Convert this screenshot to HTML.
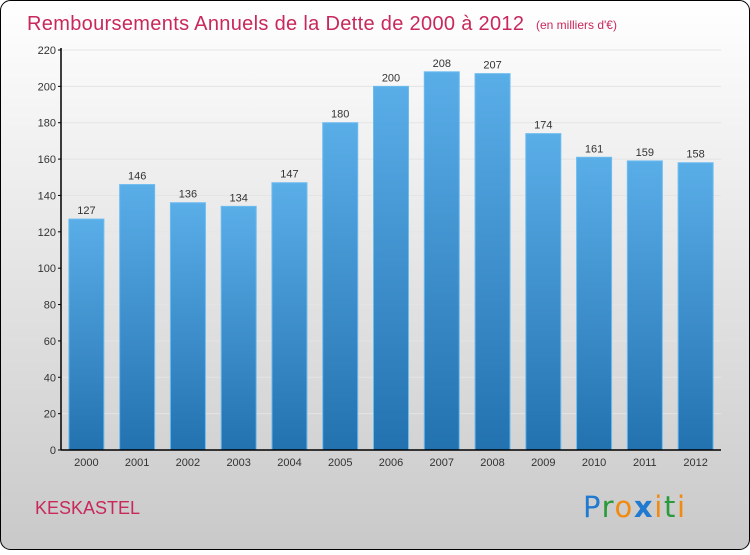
<!DOCTYPE html>
<html><head><meta charset="utf-8"><style>
body{margin:0;width:750px;height:550px;overflow:hidden;font-family:"Liberation Sans",sans-serif}
</style></head><body>
<svg width="750" height="550" xmlns="http://www.w3.org/2000/svg">
<defs>
<linearGradient id="bg" x1="0" y1="0" x2="0" y2="1"><stop offset="0" stop-color="#ffffff"/><stop offset="1" stop-color="#c9c9c9"/></linearGradient>
<linearGradient id="bar" x1="0" y1="0" x2="0" y2="1"><stop offset="0" stop-color="#5aaee8"/><stop offset="1" stop-color="#2372b0"/></linearGradient>
</defs>
<rect x="0.5" y="0.5" width="749" height="549" rx="10" fill="url(#bg)" stroke="#000"/>
<text x="27" y="30" font-size="20" fill="#c8285a" textLength="497">Remboursements Annuels de la Dette de 2000 à 2012</text>
<text x="536" y="29" font-size="12" fill="#c8285a">(en milliers d'€)</text>
<g id="grid"></g><g id="bars"></g><g id="axes"></g>
<text x="35" y="514" font-size="18" fill="#c8285a">KESKASTEL</text>
<text x="583" y="517" font-size="29" textLength="102" font-family="'DejaVu Sans',sans-serif"><tspan fill="#1f7ad0">P</tspan><tspan fill="#2a9a3a">r</tspan><tspan fill="#f08a10">o</tspan><tspan fill="#1f7ad0" font-weight="bold">x</tspan><tspan fill="#f08a10">i</tspan><tspan fill="#2a9a3a">t</tspan><tspan fill="#f08a10">i</tspan></text>
</svg>
<script>
const years=["2000","2001","2002","2003","2004","2005","2006","2007","2008","2009","2010","2011","2012"];
const values=[127,146,136,134,147,180,200,208,207,174,161,159,158];
const ticks=[0,20,40,60,80,100,120,140,160,180,200,220];
const NS="http://www.w3.org/2000/svg";
const x0=61,x1=721,y0=450,y1=50,maxV=220;
const y=v=>y0-(v/maxV)*(y0-y1);
const step=(x1-x0)/years.length;
const xc=i=>x0+step*(i+0.5);
function mk(tag,attrs,parent,txt){const e=document.createElementNS(NS,tag);for(const k in attrs)e.setAttribute(k,attrs[k]);if(txt!==undefined)e.textContent=txt;document.getElementById(parent).appendChild(e);return e;}
ticks.forEach(t=>{
 const g=mk("line",{x1:x0,x2:x1,y1:y(t),y2:y(t),stroke:"#e4e4e4","stroke-width":1},"grid");
 
 
 const tk=mk("line",{x1:x0-3,x2:x0,y1:y(t),y2:y(t),stroke:"#000"},"axes");
 
 
 const l=mk("text",{x:x0-5,y:y(t)+4,"font-size":11,fill:"#333","text-anchor":"end"},"axes",t);
 
 
});
values.forEach((v,i)=>{
 const w=35;
 const r=mk("rect",{x:xc(i)-w/2,y:y(v),width:w,height:y0-y(v),fill:"url(#bar)",stroke:"#6cbcf0","stroke-width":1},"bars");
 
 
 const t=mk("text",{x:xc(i),y:y(v)-5,"font-size":11,fill:"#333","text-anchor":"middle"},"bars",v);
 
 
 const xl=mk("text",{x:xc(i),y:y0+16,"font-size":11,fill:"#333","text-anchor":"middle"},"axes",years[i]);
 
 
});
const ya=mk("line",{x1:x0,x2:x0,y1:y1-2,y2:y0,stroke:"#000","stroke-width":1.5},"axes");


const xa=mk("line",{x1:x0,x2:x1,y1:y0,y2:y0,stroke:"#000","stroke-width":1.5},"axes");


</script>
</body></html>
